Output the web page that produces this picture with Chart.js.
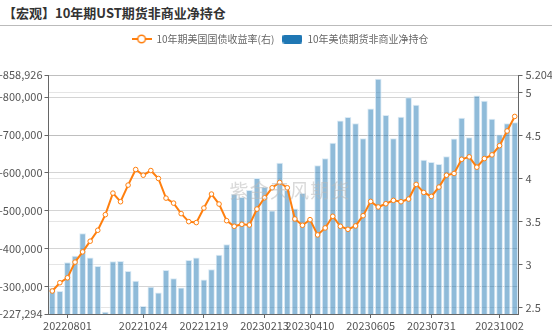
<!DOCTYPE html>
<html><head><meta charset="utf-8">
<script src="https://cdn.jsdelivr.net/npm/chart.js@4"></script>
<style>
html,body{margin:0;padding:0;background:#fff;width:552px;height:333px;overflow:hidden;}
#title{position:absolute;left:3px;top:4px;font:bold 13px "Noto Sans CJK SC",sans-serif;color:#333;line-height:18px;white-space:nowrap;}
#sep{position:absolute;left:0;top:25px;width:552px;height:1px;background:#bbb;}
#wrap{position:absolute;left:0;top:26px;width:552px;height:307px;}
</style></head><body>
<div id="title">【宏观】10年期UST期货非商业净持仓</div>
<div id="sep"></div>
<div id="wrap"><canvas id="c"></canvas></div>
<script>
const categories = [
 '20220718','20220725','20220801','20220808','20220815','20220822','20220829','20220912','20220919','20220926',
 '20221003','20221017','20221024','20221031','20221107','20221114','20221121','20221128','20221205','20221212',
 '20221219','20221226','20230102','20230109','20230116','20230123','20230130','20230206','20230213','20230306',
 '20230313','20230320','20230327','20230403','20230410','20230417','20230424','20230501','20230508','20230515',
 '20230522','20230529','20230605','20230612','20230619','20230626','20230703','20230710','20230717','20230724',
 '20230731','20230807','20230814','20230821','20230828','20230904','20230911','20230918','20230925','20231002',
 '20231009','20231016'];
const shownLabels = ['20220801','20221024','20221219','20230213','20230410','20230605','20230731','20231002'];
const netPositions = [
 -295800,-287900,-363800,-381100,-440500,-376900,-354200,-233000,-366500,-367200,
 -341100,-314900,-248600,-299200,-284300,-343700,-322000,-297300,-369900,-376900,
 -318300,-345500,-383700,-411800,-544500,-536600,-555000,-586400,-562800,-500800,
 -627200,-555000,-506000,-547100,-479000,-620400,-638700,-679600,-739000,-747600,
 -731100,-691900,-770400,-849000,-752900,-691900,-748700,-800000,-780100,-635100,
 -629000,-623800,-644000,-691100,-746100,-694500,-804500,-790600,-743500,-701600,
 -731100,-733800];
const yields = [
 2.697,2.793,2.850,3.032,3.151,3.275,3.402,3.583,3.833,3.733,
 3.926,4.107,4.041,4.095,4.003,3.775,3.717,3.595,3.502,3.491,
 3.660,3.822,3.706,3.513,3.448,3.471,3.463,3.648,3.779,3.895,
 3.957,3.895,3.533,3.460,3.525,3.348,3.429,3.564,3.448,3.413,
 3.452,3.571,3.737,3.672,3.710,3.749,3.733,3.764,3.934,3.841,
 3.795,3.903,4.041,4.061,4.226,4.254,4.134,4.234,4.277,4.384,
 4.554,4.723];
const leftTicks = [-858926,-800000,-700000,-600000,-500000,-400000,-300000,-227294];
const rightTicks = [2.43,2.5,3,3.5,4,4.5,5,5.204];
const rightShown = [2.5,3,3.5,4,4.5,5,5.204];
const seriesNames = ['10年期美国国债收益率(右)','10年美债期货非商业净持仓'];
const watermark = '紫金天风期货';

const ORANGE = 'rgb(255,127,14)';
const BLUE = 'rgb(31,119,180)';
const FONT = '"Noto Sans CJK SC", "Noto Sans", sans-serif';

function lineIcon(){
  const c=document.createElement('canvas'); c.width=20; c.height=10;
  const x=c.getContext('2d');
  x.strokeStyle=ORANGE; x.lineWidth=2;
  x.beginPath(); x.moveTo(0,5); x.lineTo(20,5); x.stroke();
  x.beginPath(); x.arc(10,5,3.8,0,Math.PI*2); x.fillStyle='#fff'; x.fill();
  x.lineWidth=1.5; x.stroke();
  return c;
}
function barIcon(){
  const c=document.createElement('canvas'); c.width=20; c.height=9;
  const x=c.getContext('2d');
  x.fillStyle=BLUE;
  x.beginPath(); x.roundRect(0,0,20,9,2.5); x.fill();
  return c;
}
const icons=[lineIcon(),barIcon()];

const legendHeight = {
  id:'legendHeight',
  beforeInit(chart){
    const fit = chart.legend.fit;
    chart.legend.fit = function(){ fit.bind(chart.legend)(); this.height = 49; };
  },
  beforeDraw(chart){
    const l = chart.legend;
    if (l) { l.left = 8; l.right = 552; }
  }
};
const watermarkPlugin = {
  id:'wm',
  afterDatasetsDraw(chart){
    const a=chart.chartArea, ctx=chart.ctx;
    ctx.save();
    ctx.font='19px '+FONT;
    ctx.fillStyle='rgba(185,185,185,0.55)';
    ctx.textAlign='center'; ctx.textBaseline='middle';
    ctx.fillText(watermark.split('').join(String.fromCharCode(8202)), a.left+(a.right-a.left)/2+6, a.top+(a.bottom-a.top)/2-4);
    ctx.restore();
  }
};

new Chart(document.getElementById('c'),{
  type:'bar',
  data:{
    labels:categories,
    datasets:[
      {type:'line',label:seriesNames[0],data:yields,yAxisID:'y1',
       borderColor:ORANGE,borderWidth:2,tension:0,
       pointRadius:2.3,pointBackgroundColor:'#fff',pointBorderColor:ORANGE,pointBorderWidth:1,
       pointHoverRadius:2.3},
      {type:'bar',label:seriesNames[1],data:netPositions,yAxisID:'y',
       backgroundColor:'rgba(31,119,180,0.5)',borderColor:'rgba(215,232,244,0.9)',borderWidth:1,borderSkipped:false,
       categoryPercentage:1,barPercentage:0.88}
    ]
  },
  options:{
    responsive:true,maintainAspectRatio:false,animation:false,
    layout:{padding:0},
    plugins:{
      legend:{position:'top',align:'center',
        labels:{usePointStyle:true,pointStyleWidth:20,padding:8,boxHeight:10,
          font:{family:FONT,size:10},color:'#666',
          generateLabels(chart){
            return chart.data.datasets.map((d,i)=>({text:d.label,pointStyle:icons[i],datasetIndex:i,
              fillStyle:'transparent',strokeStyle:'transparent',lineWidth:0,fontColor:'#666',hidden:false}));
          }}},
      tooltip:{enabled:false},
      title:{display:false}
    },
    scales:{
      x:{type:'category',offset:true,
        grid:{offset:false,drawOnChartArea:false,drawTicks:true,tickLength:4,tickColor:'#666'},
        border:{color:'#666'},
        ticks:{autoSkip:false,maxRotation:0,padding:1,color:'#555',font:{family:FONT,size:11},
          callback(v){return categories[v];}},
        afterBuildTicks(s){ s.ticks = s.ticks.filter(t=>shownLabels.includes(categories[t.value])); },
        afterFit(s){ s.height = 19; }
      },
      y:{type:'linear',position:'left',reverse:true,min:leftTicks[0],max:leftTicks[leftTicks.length-1],
        grid:{color:'rgba(0,0,0,0.17)',tickLength:4,tickColor:'#666'},
        border:{color:'#666'},
        ticks:{padding:2,color:'#555',font:{family:FONT,size:11},
          callback(v){return Number(v).toLocaleString('en-US');}},
        afterBuildTicks(s){ s.ticks = leftTicks.map(v=>({value:v})); },
        afterFit(s){ s.width = 48.5; }
      },
      y1:{type:'linear',position:'right',min:rightTicks[0],max:rightTicks[rightTicks.length-1],
        grid:{color:'rgba(0,0,0,0.10)',lineWidth:1,tickLength:4,tickColor:'#666'},
        border:{color:'#666'},
        ticks:{padding:3,color:'#555',font:{family:FONT,size:11},
          callback(v){return rightShown.includes(v)?String(v):'';}},
        afterBuildTicks(s){ s.ticks = rightShown.map(v=>({value:v})); },
        afterFit(s){ s.width = 33.5; }
      }
    }
  },
  plugins:[legendHeight,watermarkPlugin]
});
</script>
</body></html>
